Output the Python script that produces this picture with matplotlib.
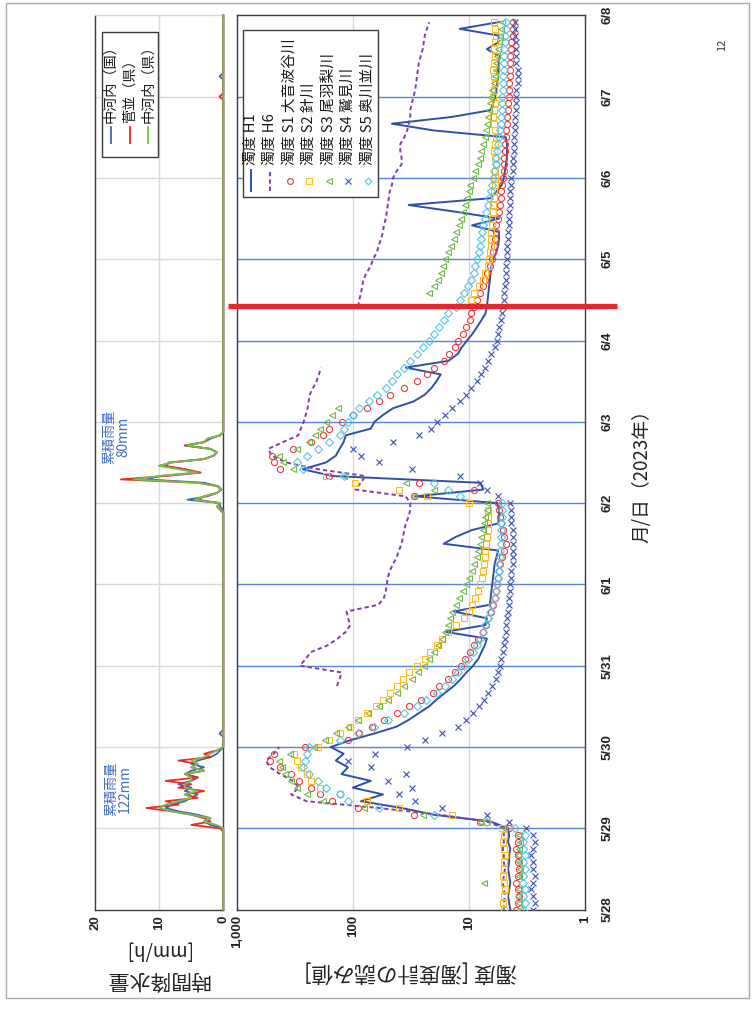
import numpy as np
import matplotlib
matplotlib.use("Agg")
import matplotlib.pyplot as plt
from matplotlib.lines import Line2D
from matplotlib.patches import Rectangle

plt.rcParams['font.family'] = ['Noto Sans CJK JP', 'DejaVu Sans']

# ---------------- data ----------------
# turbidity samples every 2 hours from 5/28 00:00 (hour 0) to 6/8
hours = np.arange(0, 264, 2)
nan = np.nan

turb_H1 = [4.4, 4.5, 4.6, 4.5, 4.4, 4.5, 4.6, 4.5, 4.5, 4.4, 4.6, 4.5,
           4.6, 6.5, 20, 38, 85, 55, 100, 70, 125, 110, 140, 120,
           155, 105, 65, 42, 33, 27, 22, 19, 16, 13.5, 11.8, 10.5,
           9.2, 8.3, 7.8, 7.3, 7.0, 16, 7.2, 7.0, 13.5, 6.6, 6.5, 6.4,
           6.3, 6.2, 6.1, 6.0, 5.8, 5.6, 16.5, 13, 9.5, 5.6, 5.5, 5.5,
           5.7, 29, 7.5, 8, 150, 270, 170, 140, 130, 120, 115, 70,
           65, 55, 45, 30, 24, 21, 19, 17.5, 35, 15, 12.5, 11.5,
           10.4, 9.3, 8.5, 7.8, 7.2, 7.0, 6.9, 6.8, 6.7, 6.6, 6.5, 6.4,
           6.2, 5.8, 5.6, 5.5, 5.5, 9.4, 5.5, 13, 33, 6.5, 5.8, 5.2,
           5.0, 4.9, 4.8, 4.7, 4.7, 4.7, 4.8, 20, 46, 14, 6.5, 6.2,
           5.9, 5.8, 5.7, 5.6, 5.6, 5.6, 5.5, 7.0, 5.6, 5.5, 12, 5.5]

turb_H6 = [5.0, 5.0, 4.9, 5.0, 5.1, 5.0, 4.9, 5.0, 5.0, 5.1, 5.0, 5.0,
           5.0, 7, 18, 60, 250, 340, 290, 330, 420, 520, 560, 480,
           430, nan, nan, nan, nan, nan, nan, nan, nan, 137, 130, 125,
           285, 255, 230, 165, 135, 115, 105, 110, 113, 60, 54, 52,
           51, 50, 48, 45, 42, 40, 38, 37, 36, 35, 33, 32,
           32, 35, 95, 85, 78, 200, 375, 500, 535, 400, 295, 280,
           265, 255, 245, 240, 235, 220, 205, 195, 190, nan, nan, nan,
           nan, nan, nan, nan, nan, 90, 88, 85, 83, 81, 76, 70,
           67, 62, 60, 57, 55, 54, 52, 51, 50, 49, 48, 46,
           45, 42, 38, 38, 39, 39, 36, 34, 33, 32, 32, 31,
           30, 29, 28.5, 28, 27.5, 27, 26, 25, 24.5, 24, 23, 22]

turb_S1 = [3.9, 3.8, 3.7, 3.8, 3.9, 3.8, 3.7, 3.8, 3.8, 3.9, 3.8, 3.8,
           4.5, 8, 30, 90, 150, 190, 230, 290, 340, 420, 520, 480,
           260, 110, 88, 68, 54, 42, 33, 26, 20.5, 18, 15, 13.2,
           11.8, 10.8, 9.8, 9.0, 8.3, 7.6, 7.1, 6.8, 6.5, 6.2, 6.0, 5.8,
           5.7, 5.6, 5.5, 5.4, 5.2, 5.0, 4.8, 5.0, 5.1, 5.3, 5.4, 5.5,
           5.6, 30, 9, 27, 160, 420, 480, 500, 330, 230, 180, 160,
           125, 100, 75, 60, 48, 36, 28, 23, 20, 16.5, 14.8, 13.2,
           12.3, 11.3, 10.5, 9.8, 9.5, 9.0, 8.5, 8.0, 7.6, 7.2, 7.0, 6.6,
           6.3, 6.2, 6.1, 6.0, 5.9, 5.8, 5.6, 5.5, 5.4, 5.3, 5.3, 5.2,
           5.1, 5.0, 5.0, 5.0, 4.9, 4.9, 4.8, 4.8, 4.7, 4.7, 4.6, 4.6,
           4.5, 4.5, 4.5, 4.4, 4.4, 4.4, 4.4, 4.3, 4.3, 4.2, 4.2, 4.2]

turb_S2 = [5.0, 5.1, 5.0, 4.9, 5.0, 5.1, 5.0, 5.0, 4.9, 5.0, 5.1, 5.0,
           5.2, 7, 14, 40, 75, 130, 190, 230, 250, 280, 300, 320,
           200, 160, 130, 105, 90, 75, 63, 55, 48, 42, 37, 33,
           28, 24, 21.5, 19, 17, 15, 13, 11, 10, 9.4, 8.9, 8.4,
           8.0, 7.7, 7.5, 7.4, 7.3, 7.2, 7.1, 7.0, 6.9, 6.9, 6.8, 6.8,
           10, 23, 40, 95, 170, nan, nan, nan, nan, nan, nan, nan,
           nan, nan, nan, nan, nan, nan, nan, nan, nan, nan, nan, nan,
           nan, nan, nan, nan, nan, nan, 9.6, 9.0, 8.2, 7.6, 7.2, 6.9,
           6.7, 6.6, 6.5, 6.5, 6.4, 6.3, 6.3, 6.2, 6.2, 6.1, 6.1, 6.0,
           6.0, 6.0, 5.9, 6.0, 6.1, 6.0, 5.9, 6.0, 6.1, 6.2, 6.1, 6.0,
           6.2, 6.1, 6.0, 6.1, 6.2, 6.1, 6.0, 6.1, 6.0, 5.9, 6.0, 6.1]

turb_S3 = [3.6, 3.7, 3.8, 3.7, 7.4, 3.7, 3.6, 3.7, 3.8, 3.7, 3.6, 3.7,
           5, 8, 25, 80, 180, 250, 300, 340, 380, 410, 430, 350,
           215, 175, 140, 110, 90, 74, 60, 50, 42, 36, 31, 27.5,
           24.5, 22, 20, 18.5, 17, 16, 15.2, 14.6, 14.0, 13.0, 12.2, 11.2,
           10.6, 10.0, 9.4, 9.0, 8.6, 8.3, 8.1, 7.9, 7.6, 7.4, 7.2, 7.0,
           7.0, 30, 20, 35, 120, 330, 400, 430, 300, 240, 210, 190,
           170, 150, 135, nan, nan, nan, nan, nan, nan, nan, nan, nan,
           nan, nan, nan, nan, nan, nan, nan, 22, 20, 18.5, 17.5, 16.8,
           16, 15, 14.2, 13.5, 12.8, 12.2, 11.8, 11.3, 10.8, 10.4, 10.0, 9.7,
           9.2, 8.8, 8.3, 8.1, 7.8, 7.5, 7.3, 7.1, 7.0, 6.8, 6.7, 6.6,
           6.4, 6.3, 6.1, 6.0, 5.9, 5.8, 5.7, 5.6, 5.5, 5.4, 5.3, 5.2]

turb_S4 = [2.8, 2.7, 2.8, 2.9, 2.8, 2.7, 2.8, 2.8, 2.9, 2.8, 2.7, 2.8,
           3.2, 4.5, 7, 17, 29, 40, 31, 50, 35, 70, 110, 64,
           34, 24, 17, 12.5, 10.5, 9.2, 8.2, 7.4, 6.8, 6.3, 5.9, 5.6,
           5.4, 5.3, 5.1, 5.0, 4.9, 4.8, 4.8, 4.7, 4.6, 4.5, 4.5, 4.4,
           4.4, 4.3, 4.3, 4.2, 4.2, 4.2, 4.2, 4.2, 4.2, 4.3, 4.3, 4.3,
           4.4, 5.6, 7.0, 8, 12, 31, 60, 85, 100, 45, 27, 21,
           19, 16, 14, 12, 10.5, 9.5, 8.6, 7.8, 7.2, 6.8, 6.4, 6.0,
           5.7, 5.6, 5.5, 5.3, 5.2, 5.1, 5.0, 5.0, 4.9, 4.8, 4.8, 4.8,
           4.7, 4.7, 4.7, 4.6, 4.6, 4.5, 4.5, 4.5, 4.4, 4.4, 4.4, 4.3,
           4.3, 4.2, 4.2, 4.2, 4.1, 4.1, 4.1, 4.0, 4.0, 4.0, 3.9, 3.9,
           3.9, 3.9, 3.8, 3.8, 3.8, 3.9, 3.9, 3.9, 3.9, 4.0, 4.0, 4.0]

turb_S5 = [3.4, 3.3, 3.4, 3.3, 3.4, 3.4, 3.3, 3.4, 3.3, 3.4, 3.4, 3.3,
           4, 7, 20, 60, 110, 130, 170, 200, 240, 270, 260, 250,
           240, 128, 90, 66, 50, 36, 28, 23.5, 19, 16, 14, 12.3,
           11, 10.2, 9.3, 8.6, 8.0, 7.6, 7.3, 6.9, 6.6, 6.3, 6.0, 5.8,
           5.7, 5.6, 5.5, 5.5, 5.4, 5.4, 5.3, 5.3, 5.3, 5.3, 5.2, 5.2,
           5.2, 12, 15, 20, 120, 270, 300, 250, 200, 160, 130, 120,
           110, 100, 88, 72, 62, 52, 46, 42, 36, 32, 28, 25,
           22, 20, 18, 16.5, 15, 13, 12, 11, 10.2, 9.6, 9.1, 8.8,
           8.5, 8.2, 8.0, 7.8, 7.7, 7.5, 7.3, 7.1, 6.9, 6.7, 6.5, 6.3,
           6.2, 6.1, 5.9, 5.8, 5.7, 5.6, 5.5, 5.4, 5.3, 5.3, 5.2, 5.2,
           5.2, 5.1, 5.1, 5.1, 5.0, 5.0, 5.0, 5.0, 4.9, 4.9, 4.8, 4.8]

# hourly rainfall [mm/h] for the two storms (first value at the start hour)
rain1_start = 24
rain1_kuni = [0, 2, 3, 2, 4, 7, 9, 8, 6, 5, 4, 6, 5, 7, 5, 4, 6, 5, 3, 5, 4, 2, 1, 0.5, 0]
rain1_sugenami = [0.5, 5, 2, 3, 5, 8, 12, 7, 9, 4, 6, 3, 7, 5, 9, 4, 6, 3, 5, 4, 7, 2, 3, 1, 0]
rain1_ken = [0, 1, 3, 2, 5, 8, 10, 9, 7, 5, 6, 4, 6, 6, 5, 5, 6, 3, 5, 4, 5, 3, 2, 1, 0]

rain2_start = 118
rain2_kuni = [0, 0.5, 0.5, 5.6, 2.5, 1, 0.3, 0.8, 3, 12, 10, 4, 6, 10, 8, 3, 1.5, 1, 2, 6, 3, 2, 0.5, 0, 0]
rain2_sugenami = [0.5, 1, 0.5, 4, 3, 1, 0.3, 1, 4, 16, 9, 3.5, 6, 9, 8.5, 3, 1.5, 1, 2, 6, 3, 2.5, 0.5, 0, 0]
rain2_ken = [0.3, 1, 0.5, 4.5, 3, 1, 0.3, 1, 4, 14, 10, 4, 7, 10, 8, 3, 1.5, 1, 2, 5.7, 3, 2.5, 0.5, 0, 0]

# isolated light showers: (hour, mm/h)
rain_extra_kuni = [(52, 0.6), (246, 0.6)]
rain_extra_sugenami = [(240, 0.6)]

day_labels = ["5/28", "5/29", "5/30", "5/31", "6/1", "6/2",
              "6/3", "6/4", "6/5", "6/6", "6/7", "6/8"]
turb_ticks = [1000, 100, 10, 1]
turb_tick_labels = ["1,000", "100", "10", "1"]
rain_ticks = [20, 10, 0]

turb_names = ["濁度 H1", "濁度 H6", "濁度 S1 大音波谷川", "濁度 S2 針川",
              "濁度 S3 尾羽梨川", "濁度 S4 鷲見川", "濁度 S5 奥川並川"]
rain_names = ["中河内（国）", "菅並（県）", "中河内（県）"]

# ---------------- styles ----------------
C_H1 = "#2E50A8"
C_H6 = "#7B3FB0"
C_S1 = "#F03A3A"
C_S2 = "#FFBE1E"
C_S3 = "#72B84A"
C_S4 = "#3A4FB8"
C_S5 = "#55C5E6"
C_RAIN = ["#3B63C4", "#F02828", "#74C04C"]
GRID_GRAY = "#D9D9D9"
DATE_BLUE = "#5B84D2"
NUM_FONT = ['Liberation Sans', 'DejaVu Sans']

W, H = 755, 1011
fig = plt.figure(figsize=(W / 100, H / 100), dpi=100)


def fx(px):
    return px / W


def fy(py):
    return 1 - py / H


Y_TOP, Y_BOT = 15.3, 909.6
ax_t = fig.add_axes([fx(236.7), fy(Y_BOT), fx(585) - fx(236.7), fy(Y_TOP) - fy(Y_BOT)])
ax_r = fig.add_axes([fx(95.3), fy(Y_BOT), fx(223.3) - fx(95.3), fy(Y_TOP) - fy(Y_BOT)])

day_ticks = np.arange(0, 265, 24)

# ---------------- turbidity panel ----------------
ax_t.set_xscale('log')
ax_t.set_xlim(1000, 1)
ax_t.set_ylim(0, 264)
for v in [100, 10]:
    ax_t.axvline(v, color=GRID_GRAY, lw=1.0, zorder=0)
for d in day_ticks[1:-1]:
    ax_t.axhline(d, color=DATE_BLUE, lw=1.0, zorder=0)

ax_t.plot(turb_H1, hours, color=C_H1, lw=1.4, zorder=3)
ax_t.plot(turb_H6, hours, color=C_H6, lw=1.4, ls=(0, (2.2, 1.6)), zorder=3)
mk = dict(ls='none', ms=4.4, mew=0.8, zorder=4)
ax_t.plot(turb_S1, hours, marker='o', mfc='none', mec=C_S1, **mk)
ax_t.plot(turb_S2, hours, marker='s', mfc='none', mec=C_S2, **mk)
ax_t.plot(turb_S3, hours, marker='<', mfc='none', mec=C_S3, **mk)
ax_t.plot(turb_S4, hours, marker='x', color=C_S4, **mk)
ax_t.plot(turb_S5, hours, marker='D', mfc='none', mec=C_S5, ls='none', ms=3.6, mew=0.8, zorder=4)

ax_t.xaxis.set_minor_locator(matplotlib.ticker.NullLocator())
ax_t.set_xticks(turb_ticks)
ax_t.set_xticklabels(turb_tick_labels, rotation=90, fontsize=9.5,
                     fontweight='bold', family=NUM_FONT, color='#222222')
ax_t.yaxis.tick_right()
ax_t.set_yticks(day_ticks)
ax_t.set_yticklabels(day_labels, rotation=90, va='center', fontsize=9.5,
                     fontweight='bold', family=NUM_FONT, color='#222222')
ax_t.tick_params(axis='x', length=0, pad=4)
ax_t.tick_params(axis='y', length=0, pad=12)
for s in ax_t.spines.values():
    s.set_color('#3A3A3A')
    s.set_linewidth(1.0)

# ---------------- rainfall panel ----------------
rain_h = np.arange(0, 265)
series_sets = [
    (rain1_kuni, rain2_kuni, rain_extra_kuni),
    (rain1_sugenami, rain2_sugenami, rain_extra_sugenami),
    (rain1_ken, rain2_ken, []),
]
ax_r.set_xlim(20, 0)
ax_r.set_ylim(0, 264)
ax_r.axvline(10, color=GRID_GRAY, lw=1.0, zorder=0)
for d in day_ticks[1:-1]:
    ax_r.axhline(d, color=GRID_GRAY, lw=1.0, zorder=0)
for (ev1, ev2, extra), col in zip(series_sets, C_RAIN):
    r = np.zeros(len(rain_h))
    r[rain1_start:rain1_start + len(ev1)] = ev1
    r[rain2_start:rain2_start + len(ev2)] = ev2
    for hh, vv in extra:
        r[hh] = vv
    ax_r.plot(r, rain_h, color=col, lw=1.3, zorder=3, clip_on=False)

ax_r.set_xticks(rain_ticks)
ax_r.set_xticklabels([str(t) for t in rain_ticks], rotation=90, fontsize=9.5,
                     fontweight='bold', family=NUM_FONT, color='#222222')
ax_r.set_yticks([])
ax_r.tick_params(axis='x', length=0, pad=4)
ax_r.spines['left'].set_color('#3A3A3A')
ax_r.spines['bottom'].set_color('#3A3A3A')
ax_r.spines['right'].set_color('#3A3A3A')
ax_r.spines['top'].set_color(GRID_GRAY)
for s in ax_r.spines.values():
    s.set_linewidth(1.0)

# cumulative rainfall notes
note_c = "#3F6CC0"
fig.text(fx(118), fy(789), "累積雨量\n122mm", rotation=90, ha='center', va='center',
         fontsize=9.8, color=note_c, linespacing=1.0)
fig.text(fx(116), fy(437), "累積雨量\n80mm", rotation=90, ha='center', va='center',
         fontsize=9.8, color=note_c, linespacing=1.0)

# ---------------- legends (drawn by hand, rotated layout) ----------------
def legend_box(x0, y0, x1, y1):
    fig.add_artist(Rectangle((fx(x0), fy(y1)), fx(x1) - fx(x0), fy(y0) - fy(y1),
                             transform=fig.transFigure, facecolor='white',
                             edgecolor='#3A3A3A', lw=1.0, zorder=5))


legend_box(243, 30, 378, 197)
turb_styles = [
    dict(color=C_H1, lw=1.4),
    dict(color=C_H6, lw=1.4, ls=(0, (2.2, 1.6))),
    dict(marker='o', mfc='none', mec=C_S1),
    dict(marker='s', mfc='none', mec=C_S2),
    dict(marker='<', mfc='none', mec=C_S3),
    dict(marker='x', color=C_S4),
    dict(marker='D', mfc='none', mec=C_S5, ms=3.4),
]
for i, (name, st) in enumerate(zip(turb_names, turb_styles)):
    x = 250.7 + 19.5 * i
    if 'marker' in st:
        kw = dict(ls='none', ms=4.2, mew=0.8)
        kw.update(st)
        fig.add_artist(Line2D([fx(x)], [fy(180.5)], transform=fig.transFigure, zorder=6, **kw))
    else:
        fig.add_artist(Line2D([fx(x), fx(x)], [fy(191), fy(170)], transform=fig.transFigure,
                              zorder=6, **st))
    fig.text(fx(x), fy(165), name, rotation=90, ha='center', va='bottom',
             fontsize=10.6, color='#1A1A1A', zorder=6)

legend_box(101.7, 31.7, 158, 156.7)
for i, (name, col) in enumerate(zip(rain_names, C_RAIN)):
    x = 110.7 + 18.8 * i
    fig.add_artist(Line2D([fx(x), fx(x)], [fy(143), fy(127)], transform=fig.transFigure,
                          color=col, lw=1.3, zorder=6))
    fig.text(fx(x), fy(123), name, rotation=90, ha='center', va='bottom',
             fontsize=10.2, color='#1A1A1A', zorder=6)

# ---------------- axis titles ----------------
fig.text(fx(157), fy(979), "時間降水量", rotation=180, ha='center', va='center', fontsize=15,
         color='#222222')
fig.text(fx(157), fy(950), "[mm/h]", rotation=180, ha='center', va='center', fontsize=13.5,
         color='#222222')
fig.text(fx(411), fy(972), "濁度 [濁度計の読み値]", rotation=180, ha='center', va='center',
         fontsize=15.5, color='#222222')
fig.text(fx(642), fy(472), "月/日（2023年）", rotation=90, ha='center', va='center',
         fontsize=13.5, color='#222222')
fig.text(fx(722), fy(45), "12", rotation=90, ha='center', va='center', fontsize=8,
         color='#333333')

# marker line for the reference time and page frame
fig.add_artist(Line2D([fx(228), fx(617)], [fy(305.5), fy(305.5)], transform=fig.transFigure,
                      color='#E8262A', lw=3.8, solid_capstyle='butt', zorder=10))
fig.add_artist(Rectangle((fx(6), fy(998)), fx(749) - fx(6), fy(3) - fy(998),
                         transform=fig.transFigure, facecolor='none',
                         edgecolor='#A8A8A8', lw=1.0, zorder=0))

fig.savefig("out.png", dpi=100, facecolor='white')
